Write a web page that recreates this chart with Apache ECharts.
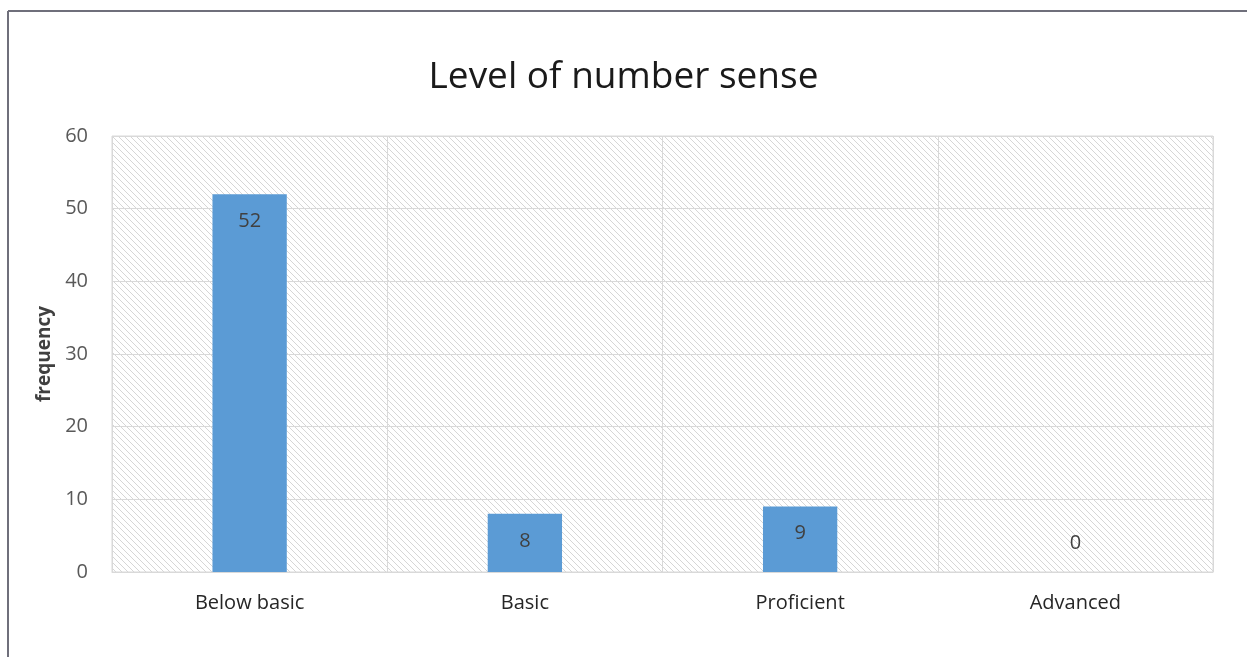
<!DOCTYPE html>
<html>
<head>
<meta charset="utf-8">
<script src="https://cdn.jsdelivr.net/npm/echarts@6/dist/echarts.min.js"></script>
<style>
html,body{margin:0;padding:0;background:#fff;}
#chart{width:1247px;height:657px;}
</style>
</head>
<body>
<div id="chart"></div>
<script>
const categories = ['Below basic', 'Basic', 'Proficient', 'Advanced'];
const frequency = [52, 8, 9, 0];
const yTicks = [0, 10, 20, 30, 40, 50, 60];

function hatchCanvas() {
  const s = 6;
  const c = document.createElement('canvas');
  c.width = s; c.height = s;
  const ctx = c.getContext('2d');
  ctx.fillStyle = '#ffffff';
  ctx.fillRect(0, 0, s, s);
  ctx.strokeStyle = '#d6d6d6';
  ctx.lineWidth = 1;
  ctx.beginPath();
  ctx.moveTo(-1, -1); ctx.lineTo(s + 1, s + 1);
  ctx.moveTo(-1, s - 1); ctx.lineTo(1, s + 1);
  ctx.moveTo(s - 1, -1); ctx.lineTo(s + 1, 1);
  ctx.stroke();
  return c;
}

const chart = echarts.init(document.getElementById('chart'));
const FONT = '"Open Sans", "Noto Sans", sans-serif';
chart.setOption({
  animation: false,
  textStyle: { fontFamily: FONT },
  title: {
    text: 'Level of number sense',
    left: 'center',
    top: 54,
    textStyle: { fontSize: 37, fontWeight: 'normal', color: '#1a1a1a', fontFamily: FONT }
  },
  graphic: [
    { type: 'line', shape: { x1: 8, y1: 11, x2: 1247, y2: 11 }, style: { stroke: '#6f6f7b', lineWidth: 2 } },
    { type: 'line', shape: { x1: 8, y1: 11, x2: 8, y2: 657 }, style: { stroke: '#6f6f7b', lineWidth: 2 } }
  ],
  grid: {
    left: 112, right: 34, top: 136, bottom: 85,
    show: true,
    borderColor: '#d9d9d9',
    borderWidth: 1,
    backgroundColor: { image: hatchCanvas(), repeat: 'repeat' }
  },
  xAxis: {
    type: 'category',
    data: categories,
    axisLine: { lineStyle: { color: '#d9d9d9' } },
    axisTick: { show: false },
    splitLine: { show: true, lineStyle: { color: '#d9d9d9' } },
    axisLabel: { color: '#262626', fontSize: 20, margin: 21, fontFamily: FONT }
  },
  yAxis: {
    type: 'value',
    min: yTicks[0],
    max: yTicks[yTicks.length - 1],
    interval: 10,
    name: 'frequency',
    nameLocation: 'middle',
    nameGap: 58,
    nameTextStyle: { fontSize: 19, fontWeight: 'bold', color: '#404040', fontFamily: FONT },
    axisLine: { show: false },
    axisTick: { show: false },
    splitLine: { lineStyle: { color: '#d9d9d9' } },
    axisLabel: { color: '#595959', fontSize: 20, margin: 24, fontFamily: FONT }
  },
  series: [{
    type: 'bar',
    data: frequency.map(v => v === 0
      ? { value: v, label: { position: 'top', distance: 19 } }
      : v),
    barCategoryGap: '73%',
    itemStyle: { color: '#5b9bd5' },
    label: {
      show: true,
      position: 'insideTop',
      distance: 17,
      color: '#404040',
      fontSize: 20,
      fontFamily: FONT
    }
  }]
});
</script>
</body>
</html>
